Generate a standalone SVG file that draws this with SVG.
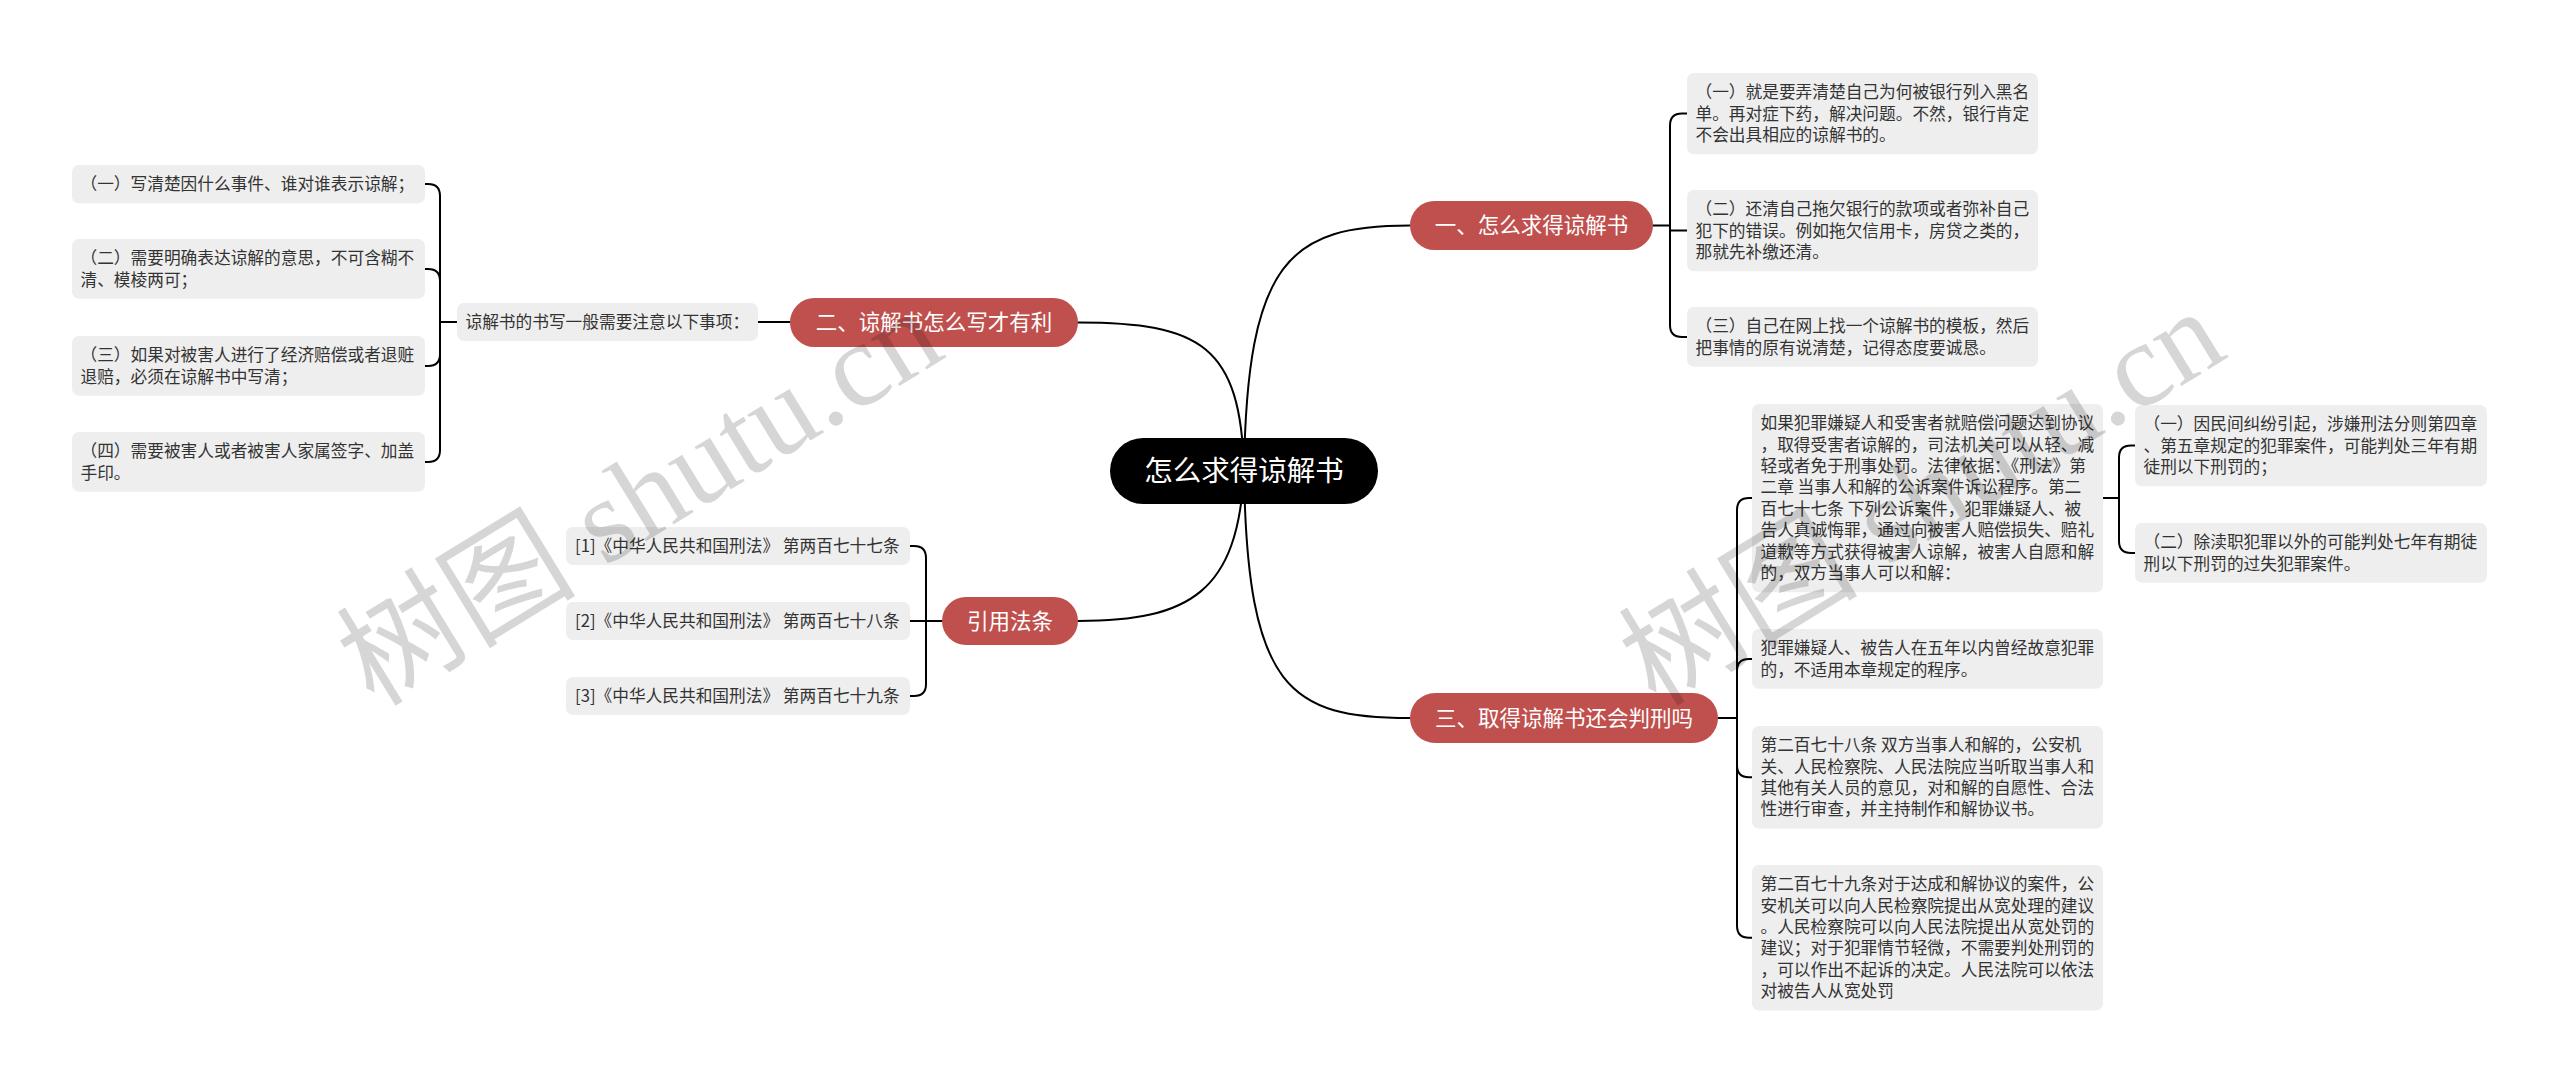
<svg xmlns="http://www.w3.org/2000/svg" width="2560" height="1083" viewBox="0 0 2560 1083">
<style>
.bg{fill:#ffffff}
.box{fill:#eeeeee}
.t{font-family:"Noto Sans CJK SC","Noto Sans CJK JP",sans-serif;font-size:16.7px;fill:#333333}
.pill{fill:#c0504d}
.pt{font-family:"Noto Sans CJK SC","Noto Sans CJK JP",sans-serif;font-size:21.5px;fill:#ffffff;text-anchor:middle}
.rt{font-family:"Noto Sans CJK SC","Noto Sans CJK JP",sans-serif;font-size:28.5px;fill:#ffffff;text-anchor:middle}
.ln{fill:none;stroke:#000000;stroke-width:2;stroke-linecap:round}
.wm{font-family:"Liberation Serif","Noto Sans CJK SC",serif;font-size:120px;fill:#000000;fill-opacity:0.16}
</style>
<rect class="bg" x="0" y="0" width="2560" height="1083"/>
<g id="connectors">
<path class="ln" d="M1244,471 C1247,260 1290,225.5 1410,225.5"/>
<path class="ln" d="M1244,471 C1241,345 1200,322.5 1078,322.5"/>
<path class="ln" d="M1244,471 C1238,592 1190,621 1078,621"/>
<path class="ln" d="M1244,471 C1247,690 1290,718 1410,718"/>
<path class="ln" d="M790,322 H758"/>
<path class="ln" d="M457,322 H440"/>
<path class="ln" d="M440,322 V196 Q440,184 428,184 H425"/>
<path class="ln" d="M440,322 V281 Q440,269 428,269 H425"/>
<path class="ln" d="M440,322 V354 Q440,366 428,366 H425"/>
<path class="ln" d="M440,322 V450 Q440,462 428,462 H425"/>
<path class="ln" d="M942,621 H910"/>
<path class="ln" d="M926,621 V558 Q926,546 914,546 H910"/>
<path class="ln" d="M926,621 V684 Q926,696 914,696 H910"/>
<path class="ln" d="M1653,225.5 H1670"/>
<path class="ln" d="M1670,225.5 V125.6 Q1670,113.6 1682,113.6 H1687"/>
<path class="ln" d="M1670,225.5 V230.6 H1687"/>
<path class="ln" d="M1670,225.5 V325 Q1670,337 1682,337 H1687"/>
<path class="ln" d="M1718,718 H1737"/>
<path class="ln" d="M1737,718 V510 Q1737,498 1749,498 H1752"/>
<path class="ln" d="M1737,718 V671 Q1737,659 1749,659 H1752"/>
<path class="ln" d="M1737,718 V765.3 Q1737,777.3 1749,777.3 H1752"/>
<path class="ln" d="M1737,718 V925.7 Q1737,937.7 1749,937.7 H1752"/>
<path class="ln" d="M2103,498 H2119"/>
<path class="ln" d="M2119,498 V457.6 Q2119,445.6 2131,445.6 H2135"/>
<path class="ln" d="M2119,498 V541 Q2119,553 2131,553 H2135"/>
</g>
<g id="root">
<rect x="1110" y="438" width="268" height="66" rx="33" fill="#000000"/>
<text class="rt" x="1244" y="481">怎么求得谅解书</text>
</g>
<g id="branch1">
<rect class="pill" x="1410" y="201" width="243" height="49" rx="24.5"/>
<text class="pt" x="1531.5" y="233">一、怎么求得谅解书</text>
</g>
<g id="branch2">
<rect class="pill" x="790" y="298" width="288" height="49" rx="24.5"/>
<text class="pt" x="934" y="330">二、谅解书怎么写才有利</text>
</g>
<g id="branch3">
<rect class="pill" x="1410" y="693" width="308" height="50" rx="25"/>
<text class="pt" x="1564" y="726">三、取得谅解书还会判刑吗</text>
</g>
<g id="branch4">
<rect class="pill" x="942" y="597" width="136" height="48" rx="24"/>
<text class="pt" x="1010" y="629">引用法条</text>
</g>
<g id="b1c1">
<rect class="box" x="1687" y="73" width="351" height="81.2" rx="7"/>
<text class="t"><tspan x="1695.5" y="98.2">（一）就是要弄清楚自己为何被银行列入黑名</tspan><tspan x="1695.5" y="119.6">单。再对症下药，解决问题。不然，银行肯定</tspan><tspan x="1695.5" y="141">不会出具相应的谅解书的。</tspan></text>
</g>
<g id="b1c2">
<rect class="box" x="1687" y="190" width="351" height="81.2" rx="7"/>
<text class="t"><tspan x="1695.5" y="215.2">（二）还清自己拖欠银行的款项或者弥补自己</tspan><tspan x="1695.5" y="236.6">犯下的错误。例如拖欠信用卡，房贷之类的，</tspan><tspan x="1695.5" y="258">那就先补缴还清。</tspan></text>
</g>
<g id="b1c3">
<rect class="box" x="1687" y="307" width="351" height="59.8" rx="7"/>
<text class="t"><tspan x="1695.5" y="332.2">（三）自己在网上找一个谅解书的模板，然后</tspan><tspan x="1695.5" y="353.6">把事情的原有说清楚，记得态度要诚恳。</tspan></text>
</g>
<g id="b2c0">
<rect class="box" x="457" y="303" width="301" height="38" rx="7"/>
<text class="t" x="465.5" y="328">谅解书的书写一般需要注意以下事项：</text>
</g>
<g id="b2c1">
<rect class="box" x="72" y="165" width="353" height="38.4" rx="7"/>
<text class="t" x="80.5" y="190">（一）写清楚因什么事件、谁对谁表示谅解；</text>
</g>
<g id="b2c2">
<rect class="box" x="72" y="239" width="353" height="59.8" rx="7"/>
<text class="t"><tspan x="80.5" y="264.2">（二）需要明确表达谅解的意思，不可含糊不</tspan><tspan x="80.5" y="285.6">清、模棱两可；</tspan></text>
</g>
<g id="b2c3">
<rect class="box" x="72" y="336" width="353" height="59.8" rx="7"/>
<text class="t"><tspan x="80.5" y="361.2">（三）如果对被害人进行了经济赔偿或者退赃</tspan><tspan x="80.5" y="382.6">退赔，必须在谅解书中写清；</tspan></text>
</g>
<g id="b2c4">
<rect class="box" x="72" y="432" width="353" height="59.8" rx="7"/>
<text class="t"><tspan x="80.5" y="457.2">（四）需要被害人或者被害人家属签字、加盖</tspan><tspan x="80.5" y="478.6">手印。</tspan></text>
</g>
<g id="ref1">
<rect class="box" x="566" y="527" width="344" height="38" rx="7"/>
<text class="t" x="575" y="552">[1]《中华人民共和国刑法》 第两百七十七条</text>
</g>
<g id="ref2">
<rect class="box" x="566" y="602" width="344" height="38" rx="7"/>
<text class="t" x="575" y="627">[2]《中华人民共和国刑法》 第两百七十八条</text>
</g>
<g id="ref3">
<rect class="box" x="566" y="677" width="344" height="38" rx="7"/>
<text class="t" x="575" y="702">[3]《中华人民共和国刑法》 第两百七十九条</text>
</g>
<g id="b3c1">
<rect class="box" x="1752" y="404" width="351" height="188.2" rx="7"/>
<text class="t"><tspan x="1760.5" y="429.2">如果犯罪嫌疑人和受害者就赔偿问题达到协议</tspan><tspan x="1760.5" y="450.6">，取得受害者谅解的，司法机关可以从轻、减</tspan><tspan x="1760.5" y="472">轻或者免于刑事处罚。法律依据：《刑法》第</tspan><tspan x="1760.5" y="493.4">二章 当事人和解的公诉案件诉讼程序。第二</tspan><tspan x="1760.5" y="514.8">百七十七条 下列公诉案件，犯罪嫌疑人、被</tspan><tspan x="1760.5" y="536.2">告人真诚悔罪，通过向被害人赔偿损失、赔礼</tspan><tspan x="1760.5" y="557.6">道歉等方式获得被害人谅解，被害人自愿和解</tspan><tspan x="1760.5" y="579">的，双方当事人可以和解：</tspan></text>
</g>
<g id="b3c1s1">
<rect class="box" x="2135" y="405" width="352" height="81.2" rx="7"/>
<text class="t"><tspan x="2143.5" y="430.2">（一）因民间纠纷引起，涉嫌刑法分则第四章</tspan><tspan x="2143.5" y="451.6">、第五章规定的犯罪案件，可能判处三年有期</tspan><tspan x="2143.5" y="473">徒刑以下刑罚的；</tspan></text>
</g>
<g id="b3c1s2">
<rect class="box" x="2135" y="523" width="352" height="59.8" rx="7"/>
<text class="t"><tspan x="2143.5" y="548.2">（二）除渎职犯罪以外的可能判处七年有期徒</tspan><tspan x="2143.5" y="569.6">刑以下刑罚的过失犯罪案件。</tspan></text>
</g>
<g id="b3c2">
<rect class="box" x="1752" y="629" width="351" height="59.8" rx="7"/>
<text class="t"><tspan x="1760.5" y="654.2">犯罪嫌疑人、被告人在五年以内曾经故意犯罪</tspan><tspan x="1760.5" y="675.6">的，不适用本章规定的程序。</tspan></text>
</g>
<g id="b3c3">
<rect class="box" x="1752" y="726" width="351" height="102.6" rx="7"/>
<text class="t"><tspan x="1760.5" y="751.2">第二百七十八条 双方当事人和解的，公安机</tspan><tspan x="1760.5" y="772.6">关、人民检察院、人民法院应当听取当事人和</tspan><tspan x="1760.5" y="794">其他有关人员的意见，对和解的自愿性、合法</tspan><tspan x="1760.5" y="815.4">性进行审查，并主持制作和解协议书。</tspan></text>
</g>
<g id="b3c4">
<rect class="box" x="1752" y="865" width="351" height="145.4" rx="7"/>
<text class="t"><tspan x="1760.5" y="890.2">第二百七十九条对于达成和解协议的案件，公</tspan><tspan x="1760.5" y="911.6">安机关可以向人民检察院提出从宽处理的建议</tspan><tspan x="1760.5" y="933">。人民检察院可以向人民法院提出从宽处罚的</tspan><tspan x="1760.5" y="954.4">建议；对于犯罪情节轻微，不需要判处刑罚的</tspan><tspan x="1760.5" y="975.8">，可以作出不起诉的决定。人民法院可以依法</tspan><tspan x="1760.5" y="997.2">对被告人从宽处罚</tspan></text>
</g>
<g id="watermark">
<text class="wm" transform="translate(374,708) rotate(-31.5)">树图 shutu.cn</text>
<text class="wm" transform="translate(1656,708) rotate(-31.5)">树图 shutu.cn</text>
</g>
</svg>
